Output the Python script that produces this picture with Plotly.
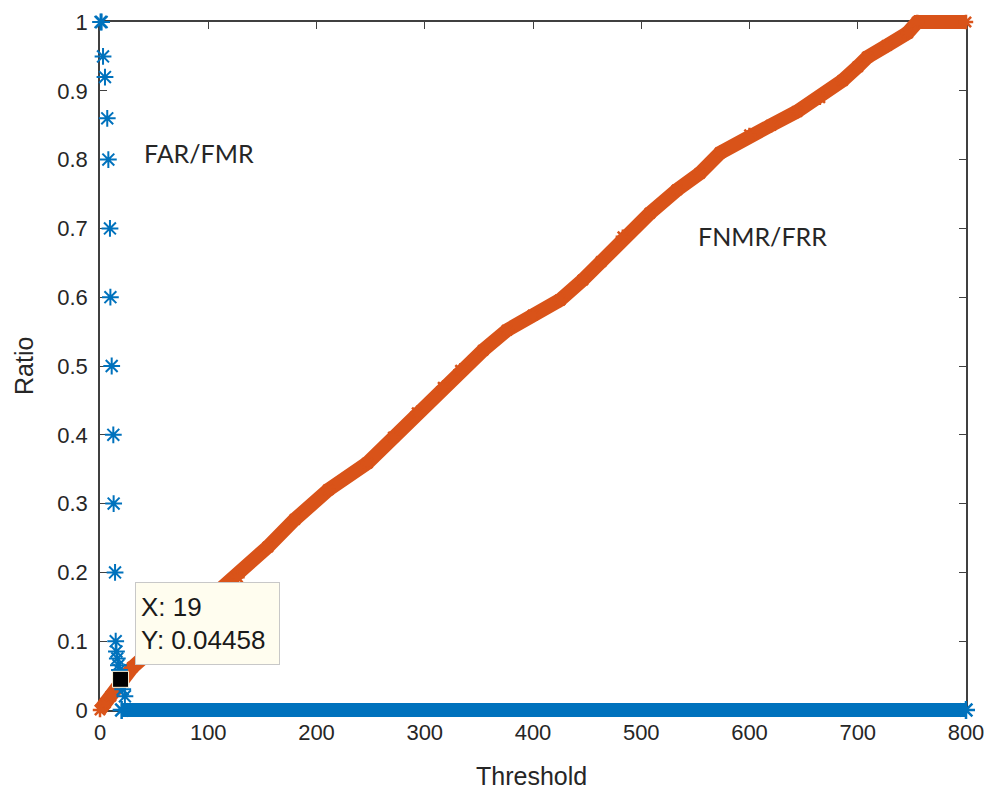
import plotly.graph_objects as go

# ---------------- data ----------------
# FAR / FMR  (blue asterisks)
far_x = [0.5, 1.5, 2.8, 4.6, 6.7, 7.7, 9.2, 9.6, 10.8, 12.3, 12.6, 13.9, 14.5, 15.2, 16.0, 17.0, 18.0, 19.0, 21.0, 23.0, 20.0, 800.0]
far_y = [1.0, 1.0, 0.95, 0.92, 0.86, 0.80, 0.70, 0.60, 0.50, 0.40, 0.30, 0.20, 0.10, 0.085, 0.075, 0.065, 0.058, 0.045, 0.03, 0.02, 0.0, 0.0]

# FNMR / FRR  (orange asterisks, dense band)
frr_x = [0, 5, 10, 19, 30, 50, 75, 100, 127, 155, 180, 211, 247, 271, 293, 317, 333, 354, 376, 400,
         425, 446, 463, 483, 508, 533, 554, 573, 600, 620, 644, 665, 686, 700, 709, 727, 746, 755, 800]
frr_y = [0.0, 0.01, 0.02, 0.0446, 0.062, 0.09, 0.125, 0.16, 0.193, 0.237, 0.277, 0.32, 0.359, 0.397,
         0.432, 0.469, 0.494, 0.523, 0.552, 0.574, 0.596, 0.625, 0.652, 0.688, 0.722, 0.756, 0.78,
         0.81, 0.836, 0.85, 0.87, 0.89, 0.915, 0.935, 0.949, 0.966, 0.984, 1.0, 1.0]

# data tip
tip_x = [19]
tip_y = [0.04458]

x_ticks = [0, 100, 200, 300, 400, 500, 600, 700, 800]
y_ticks = [0, 0.1, 0.2, 0.3, 0.4, 0.5, 0.6, 0.7, 0.8, 0.9, 1]
y_tick_text = ["0", "0.1", "0.2", "0.3", "0.4", "0.5", "0.6", "0.7", "0.8", "0.9", "1"]

# ---------------- layout geometry ----------------
W, H = 987, 790
L, R, T, B = 100, 966, 22, 710          # axes box in pixels
X0, X1, Y0, Y1 = 0, 800, 0, 1

BLUE = "#0072BD"
ORANGE = "#D95319"
AXC = "#404040"
TXT = "#262626"

sx = (X1 - X0) / (R - L)
sy = (Y1 - Y0) / (B - T)
x2_range = [X0 - L * sx, X1 + (W - R) * sx]
y2_range = [Y0 - (H - B) * sy, Y1 + T * sy]

fig = go.Figure()

# invisible carrier so the visible axes exist
fig.add_trace(go.Scatter(x=[X0], y=[Y0], mode="markers", marker=dict(opacity=0),
                         hoverinfo="skip", showlegend=False, xaxis="x", yaxis="y"))

stars_x = [x for x, y in zip(far_x, far_y) if y > 0]
stars_y = [y for y in far_y if y > 0]
zero_x = [x for x, y in zip(far_x, far_y) if y == 0]
zero_y = [y for y in far_y if y == 0]

fig.add_trace(go.Scatter(x=frr_x, y=frr_y, mode="lines+markers",
                         line=dict(color=ORANGE, width=14),
                         marker=dict(symbol="asterisk-open", size=12, color=ORANGE,
                                     line=dict(color=ORANGE, width=2.5)),
                         cliponaxis=False, showlegend=False, xaxis="x2", yaxis="y2"))

fig.add_trace(go.Scatter(x=zero_x, y=zero_y, mode="lines+markers",
                         line=dict(color=BLUE, width=14),
                         marker=dict(symbol="asterisk-open", size=15, color=BLUE,
                                     line=dict(color=BLUE, width=2.5)),
                         cliponaxis=False, showlegend=False, xaxis="x2", yaxis="y2"))

fig.add_trace(go.Scatter(x=stars_x, y=stars_y, mode="markers",
                         marker=dict(symbol="asterisk-open", size=14, color=BLUE,
                                     line=dict(color=BLUE, width=2)),
                         cliponaxis=False, showlegend=False, xaxis="x2", yaxis="y2"))

fig.add_trace(go.Scatter(x=tip_x, y=tip_y, mode="markers",
                         marker=dict(symbol="square", size=16, color="black",
                                     line=dict(color="#FFF8DC", width=1)),
                         cliponaxis=False, showlegend=False, xaxis="x2", yaxis="y2"))

axis_common = dict(showgrid=False, zeroline=False, showline=True, linecolor=AXC, linewidth=1.5,
                   mirror="ticks", ticks="inside", ticklen=7, tickwidth=1.2, tickcolor=AXC,
                   automargin=False,
                   tickfont=dict(family="Liberation Sans, Arial, sans-serif", size=22, color=TXT))

fig.update_layout(
    template="none",
    width=W, height=H,
    margin=dict(l=0, r=0, t=0, b=0, pad=0),
    paper_bgcolor="white", plot_bgcolor="rgba(0,0,0,0)",
    xaxis=dict(domain=[L / W, R / W], range=[X0, X1], tickvals=x_ticks, anchor="y",
               ticklabelstandoff=2, **axis_common),
    yaxis=dict(domain=[1 - B / H, 1 - T / H], range=[Y0, Y1], tickvals=y_ticks,
               ticktext=y_tick_text, anchor="x", ticklabelstandoff=6, **axis_common),
    xaxis2=dict(domain=[0, 1], range=x2_range, visible=False, anchor="y2", fixedrange=True,
                automargin=False),
    yaxis2=dict(domain=[0, 1], range=y2_range, visible=False, anchor="x2", fixedrange=True,
                automargin=False),
    showlegend=False,
)

label_font = dict(family="Lato, Open Sans, sans-serif", size=25, color=TXT)
title_font = dict(family="Liberation Sans, Arial, sans-serif", size=25, color=TXT)

fig.add_annotation(x=38.8, y=0.81, xref="x", yref="y", text="FAR/FMR", showarrow=False,
                   xanchor="left", yanchor="middle", font=label_font)
fig.add_annotation(x=550.6, y=0.689, xref="x", yref="y", text="FNMR/FRR", showarrow=False,
                   xanchor="left", yanchor="middle", font=label_font)

# axis titles
fig.add_annotation(x=531 / W, y=1 - 776 / H, xref="paper", yref="paper", text="Threshold",
                   showarrow=False, xanchor="center", yanchor="middle", font=title_font)
fig.add_annotation(x=24 / W, y=1 - 366 / H, xref="paper", yref="paper", text="Ratio",
                   showarrow=False, xanchor="center", yanchor="middle", textangle=-90, font=title_font)

# data tip box
fig.add_annotation(x=32.3, y=0.186, xref="x", yref="y",
                   text=f"X: {tip_x[0]}<br>Y: {tip_y[0]}", showarrow=False,
                   xanchor="left", yanchor="top", align="left", valign="middle",
                   width=133, height=71, borderpad=5,
                   bgcolor="#FFFDEF", bordercolor="#C8C8C8", borderwidth=1,
                   font=dict(family="Liberation Sans, Arial, sans-serif", size=26, color="#1a1a1a"))

fig.write_html("out.html", config={"displayModeBar": False},
               post_script="document.body.style.margin='0px';")
